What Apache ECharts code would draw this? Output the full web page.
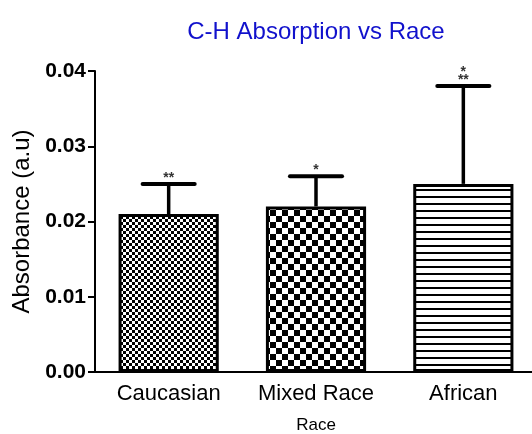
<!DOCTYPE html>
<html>
<head>
<meta charset="utf-8">
<script src="https://cdn.jsdelivr.net/npm/echarts@6/dist/echarts.min.js"></script>
<style>
  html, body { margin: 0; padding: 0; background: #fff; }
  #chart { width: 532px; height: 434px; }
</style>
</head>
<body>
<div id="chart"></div>
<script>
// Mean C-H absorbance per group, with the upper error bar and significance marks
const categories = ['Caucasian', 'Mixed Race', 'African'];
const means = [0.021, 0.022, 0.025];
const upperErrors = [0.025, 0.026, 0.038];
const significance = ['**', '*', '*\n**'];
const yTicks = [0, 0.01, 0.02, 0.03, 0.04];

// Fill patterns: fine checker, coarse checker, horizontal stripes
function checker(size) {
  const c = document.createElement('canvas');
  c.width = size * 2; c.height = size * 2;
  const g = c.getContext('2d');
  g.fillStyle = '#fff'; g.fillRect(0, 0, c.width, c.height);
  g.fillStyle = '#000';
  g.fillRect(0, 0, size, size);
  g.fillRect(size, size, size, size);
  return c;
}
function stripes(period, thick) {
  const c = document.createElement('canvas');
  c.width = 8; c.height = period;
  const g = c.getContext('2d');
  g.fillStyle = '#fff'; g.fillRect(0, 0, c.width, c.height);
  g.fillStyle = '#000';
  g.fillRect(0, 0, c.width, thick);
  return c;
}
const patterns = [
  { image: checker(3), repeat: 'repeat' },
  { image: checker(6), repeat: 'repeat' },
  { image: stripes(7, 2), repeat: 'repeat' }
];

const chart = echarts.init(document.getElementById('chart'), null, { renderer: 'canvas' });

const font = 'Arial, "Liberation Sans", Helvetica, sans-serif';

chart.setOption({
  animation: false,
  backgroundColor: '#fff',
  title: {
    text: 'C-H Absorption vs Race',
    left: 311,
    top: 15,
    textAlign: 'center',
    textStyle: { color: '#1111cc', fontFamily: font, fontSize: 24, fontWeight: 'normal' }
  },
  grid: { left: 95, right: -5, top: 71, bottom: 62, containLabel: false, outerBoundsMode: 'none' },
  xAxis: {
    type: 'category',
    data: categories,
    name: 'Race',
    nameLocation: 'middle',
    nameGap: 45,
    nameTextStyle: { color: '#000', fontFamily: font, fontSize: 17 },
    axisLine: { lineStyle: { color: '#000', width: 2 } },
    axisTick: { alignWithLabel: true, length: 7, lineStyle: { color: '#000', width: 2 } },
    axisLabel: { color: '#000', fontFamily: font, fontSize: 22, margin: 11, interval: 0, hideOverlap: false }
  },
  yAxis: {
    type: 'value',
    min: 0,
    max: 0.04,
    interval: 0.01,
    name: 'Absorbance (a.u)',
    nameLocation: 'middle',
    nameGap: 60,
    nameTextStyle: { color: '#000', fontFamily: font, fontSize: 24 },
    axisLine: { show: true, lineStyle: { color: '#000', width: 2 } },
    axisTick: { show: true, length: 7, lineStyle: { color: '#000', width: 2 } },
    splitLine: { show: false },
    axisLabel: {
      color: '#000', fontFamily: font, fontSize: 21, fontWeight: 'bold', margin: 9,
      formatter: v => v.toFixed(2)
    }
  },
  series: [
    {
      type: 'bar',
      barWidth: '68%',
      data: means.map((v, i) => ({
        value: v,
        itemStyle: { color: patterns[i], borderColor: '#000', borderWidth: 3 }
      })),
      z: 2
    },
    {
      type: 'custom',
      z: 1,
      data: means.map((v, i) => [i, v, upperErrors[i]]),
      renderItem: function (params, api) {
        const i = api.value(0);
        const top = api.coord([i, api.value(1)]);
        const hi = api.coord([i, api.value(2)]);
        const bw = api.size([1, 0])[0] * 0.68;
        const capHalf = bw * 0.26;
        return {
          type: 'group',
          children: [
            {
              type: 'line',
              shape: { x1: top[0], y1: top[1], x2: hi[0], y2: hi[1] },
              style: { stroke: '#000', lineWidth: 3.5 }
            },
            {
              type: 'line',
              shape: { x1: hi[0] - capHalf, y1: hi[1], x2: hi[0] + capHalf, y2: hi[1] },
              style: { stroke: '#000', lineWidth: 4, lineCap: 'round' }
            },
            {
              type: 'text',
              style: {
                x: hi[0], y: hi[1] - 2,
                text: significance[params.dataIndex],
                textAlign: 'center', textVerticalAlign: 'bottom',
                fill: '#333', font: 'bold 14px ' + font, lineHeight: 8
              }
            }
          ]
        };
      }
    }
  ]
});
</script>
</body>
</html>
